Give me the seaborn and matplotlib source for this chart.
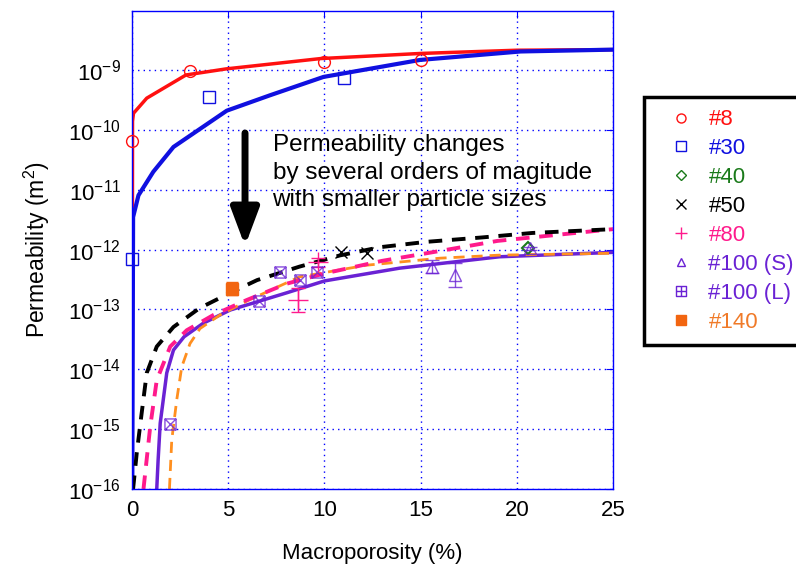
import matplotlib
matplotlib.use('Agg')
import matplotlib.pyplot as plt
from matplotlib.lines import Line2D
from matplotlib.path import Path
import seaborn as sns

# fitted curves: macroporosity (%) vs permeability (m^2)
x8 = [0, 0.02, 0.07, 0.76, 2.8, 4.9, 9.8, 15, 20, 25]
k8 = [1e-17, 1.4e-10, 1.9e-10, 3.4e-10, 8.3e-10, 1.05e-9, 1.56e-9, 1.9e-9, 2.15e-9, 2.2e-9]
x30 = [0, 0.05, 0.33, 1.1, 2.15, 4.92, 7.17, 9.95, 14.97, 20.2, 25]
k30 = [1e-17, 3.5e-12, 8.1e-12, 2e-11, 5.2e-11, 2.1e-10, 3.8e-10, 7.7e-10, 1.48e-9, 2.05e-9, 2.2e-9]
x50 = [0.05, 0.24, 0.5, 0.76, 1.28, 2.15, 3.5, 5.1, 6.5, 8.7, 10.8, 12.9, 15.3, 18.2, 20.8, 25]
k50 = [1e-16, 4e-16, 1.9e-15, 8.7e-15, 2.4e-14, 5.1e-14, 1.05e-13, 1.9e-13, 3.1e-13, 5.2e-13,
       8e-13, 1.1e-12, 1.35e-12, 1.6e-12, 1.9e-12, 2.2e-12]
x80 = [0.59, 0.94, 1.28, 1.98, 2.84, 4.23, 5.96, 8.04, 10, 13, 16, 19, 25]
k80 = [1e-16, 1.1e-15, 6.6e-15, 2.4e-14, 4.5e-14, 8.1e-14, 1.44e-13, 2.7e-13, 4e-13, 6.5e-13,
       9.5e-13, 1.4e-12, 2.2e-12]
x100 = [1.28, 1.35, 1.46, 1.8, 2.15, 2.7, 3.7, 5.1, 8.04, 10, 13.9, 19.1, 25]
k100 = [1e-16, 3e-16, 1.26e-15, 8.7e-15, 2.1e-14, 3.5e-14, 5.9e-14, 9.8e-14, 1.9e-13, 3e-13,
        4.9e-13, 7.6e-13, 9e-13]
x140 = [1.94, 2.06, 2.32, 2.58, 3.01, 3.53, 4.57, 6.0, 8.7, 12.2, 16, 19.1, 25]
k140 = [1e-16, 6.6e-16, 3.1e-15, 1.1e-14, 2.7e-14, 4.8e-14, 8.1e-14, 1.4e-13, 3.5e-13, 5.5e-13,
        7.2e-13, 8.1e-13, 8.7e-13]

# measurements
p8_x = [0, 3, 10, 15]
p8_k = [6.5e-11, 9.5e-10, 1.35e-9, 1.5e-9]
p30_x = [0, 4.0, 11]
p30_k = [7e-13, 3.5e-10, 7.4e-10]
p40_x = [20.6]
p40_k = [1.07e-12]
p50_x = [10.85, 12.2]
p50_k = [9.2e-13, 8.7e-13]
p80_x = [8.63, 9.67]
p80_k = [1.44e-13, 6.3e-13]
p80_lo = [9.1e-14, 5.1e-13]
p80_hi = [2.3e-13, 7.2e-13]
p100s_x = [15.6, 16.8, 20.7]
p100s_k = [5.2e-13, 3.8e-13, 1.05e-12]
p100s_lo = [4.0e-13, 2.35e-13, 1.0e-12]
p100s_hi = [6.7e-13, 6.0e-13, 1.1e-12]
p100l_x = [1.98, 6.62, 7.69, 8.73, 9.63]
p100l_k = [1.2e-15, 1.38e-13, 4.3e-13, 3.1e-13, 4.3e-13]
p140_x = [5.2]
p140_k = [2.2e-13]
p140_lo = [1.75e-13]
p140_hi = [2.9e-13]

yticks = [1e-16, 1e-15, 1e-14, 1e-13, 1e-12, 1e-11, 1e-10, 1e-9]
labels = ['#8', '#30', '#40', '#50', '#80', '#100 (S)', '#100 (L)', '#140']

red, blue, green, black = '#ff1010', '#1010e0', '#1a7a1a', '#000000'
pink, purple, orange, orange2 = '#ff1a8c', '#6a22d4', '#ff8f1f', '#f26510'

sns.set_style('white')
plt.rcParams['font.family'] = ['Liberation Sans', 'DejaVu Sans']
plt.rcParams['mathtext.default'] = 'regular'
plt.rcParams['text.color'] = 'black'
plt.rcParams['axes.labelcolor'] = 'black'

M, L, C = Path.MOVETO, Path.LINETO, Path.CLOSEPOLY
box_x = Path([(-1, -1), (1, -1), (1, 1), (-1, 1), (-1, -1), (-1, -1), (1, 1), (-1, 1), (1, -1)],
             [M, L, L, L, C, M, L, M, L])
box_plus = Path([(-1, -1), (1, -1), (1, 1), (-1, 1), (-1, -1), (0, -1), (0, 1), (-1, 0), (1, 0)],
                [M, L, L, L, C, M, L, M, L])

fig = plt.figure(figsize=(7.96, 5.71), dpi=100)
ax = fig.add_axes([0.166, 0.1436, 0.604, 0.837])

sns.lineplot(x=x8, y=k8, ax=ax, color=red, lw=2.5, sort=False, estimator=None)
sns.lineplot(x=x30, y=k30, ax=ax, color=blue, lw=3, sort=False, estimator=None)
sns.lineplot(x=x100, y=k100, ax=ax, color=purple, lw=2.5, sort=False, estimator=None)
sns.lineplot(x=x140, y=k140, ax=ax, color=orange, lw=2, ls=(0, (4, 2.5)), sort=False, estimator=None)
sns.lineplot(x=x80, y=k80, ax=ax, color=pink, lw=2.8, ls=(0, (3.5, 2.5)), sort=False, estimator=None)
sns.lineplot(x=x50, y=k50, ax=ax, color=black, lw=2.8, ls=(0, (3.5, 2.5)), sort=False, estimator=None)

mk = dict(ls='none', clip_on=False, zorder=5)
ax.plot(p8_x, p8_k, marker='o', ms=8.5, mfc='none', mec=red, mew=1, **mk)
ax.plot(p30_x, p30_k, marker='s', ms=8, mfc='none', mec=blue, mew=1, **mk)
ax.plot(p40_x, p40_k, marker='D', ms=6.5, mfc='none', mec=green, mew=1.5, **mk)
ax.plot(p50_x, p50_k, marker='x', ms=8, mec=black, mew=1, **mk)
ax.errorbar(p80_x, p80_k, yerr=[[k - lo for k, lo in zip(p80_k, p80_lo)],
                                [hi - k for k, hi in zip(p80_k, p80_hi)]],
            fmt='+', ms=14, color=pink, mew=1, elinewidth=1, capsize=5, **mk)
ax.errorbar(p100s_x, p100s_k, yerr=[[k - lo for k, lo in zip(p100s_k, p100s_lo)],
                                    [hi - k for k, hi in zip(p100s_k, p100s_hi)]],
            fmt='^', ms=8, mfc='none', mec=purple, color=purple, alpha=0.8, mew=1, elinewidth=1,
            capsize=5, **mk)
ax.plot(p100l_x, p100l_k, marker=box_x, ms=8, mfc='none', mec=purple, mew=1, alpha=0.8, **mk)
ax.errorbar(p140_x, p140_k, yerr=[[k - lo for k, lo in zip(p140_k, p140_lo)],
                                  [hi - k for k, hi in zip(p140_k, p140_hi)]],
            fmt='s', ms=8, color=orange2, elinewidth=1, capsize=4, **mk)

ax.set_yscale('log')
ax.set_xlim(0, 25)
ax.set_ylim(1e-16, 9.7e-9)
ax.set_yticks(yticks)
ax.set_xticks([0, 5, 10, 15, 20, 25])
ax.minorticks_off()
ax.grid(True, color='blue', ls=(0, (1, 3)), lw=1)
for s in ax.spines.values():
    s.set_color('blue')
    s.set_linewidth(1)
ax.tick_params(direction='in', length=5, color='blue', labelcolor='black', top=True, right=True,
               labelsize=16, pad=8)

ax.set_xlabel('Macroporosity (%)', fontsize=16, labelpad=16)
ax.set_ylabel('Permeability (m$^{2}$)', fontsize=16.5, labelpad=12)

ax.annotate('', xy=(5.87, 1.15e-12), xytext=(5.87, 8.9e-11),
            arrowprops=dict(arrowstyle='-|>,head_length=1.6,head_width=0.6', lw=5, color='black',
                            mutation_scale=14, shrinkA=0, shrinkB=0))
ax.text(7.3, 8.5e-11, 'Permeability changes\nby several orders of magitude\nwith smaller particle sizes',
        fontsize=17.5, va='top', ha='left', linespacing=1.32)

handles = [
    Line2D([], [], ls='none', marker='o', ms=6.5, mfc='none', mec=red),
    Line2D([], [], ls='none', marker='s', ms=6.5, mfc='none', mec=blue),
    Line2D([], [], ls='none', marker='D', ms=5, mfc='none', mec=green),
    Line2D([], [], ls='none', marker='x', ms=6.5, mec=black),
    Line2D([], [], ls='none', marker='+', ms=8, mec=pink),
    Line2D([], [], ls='none', marker='^', ms=6, mfc='none', mec=purple),
    Line2D([], [], ls='none', marker=box_plus, ms=6.5, mfc='none', mec=purple),
    Line2D([], [], ls='none', marker='s', ms=6.5, mfc=orange2, mec=orange2),
]
tcolors = [red, blue, green, black, pink, purple, purple, '#f07a28']
leg = fig.legend(handles, labels, loc='upper left', bbox_to_anchor=(0.809, 0.830), frameon=True,
                 fancybox=False, edgecolor='black', framealpha=1, fontsize=16, labelspacing=0.355,
                 handlelength=2.2, handletextpad=0.15, borderpad=0.55, borderaxespad=0)
leg.get_frame().set_linewidth(2.5)
for t, c in zip(leg.get_texts(), tcolors):
    t.set_color(c)

fig.savefig('out.png', dpi=100)
